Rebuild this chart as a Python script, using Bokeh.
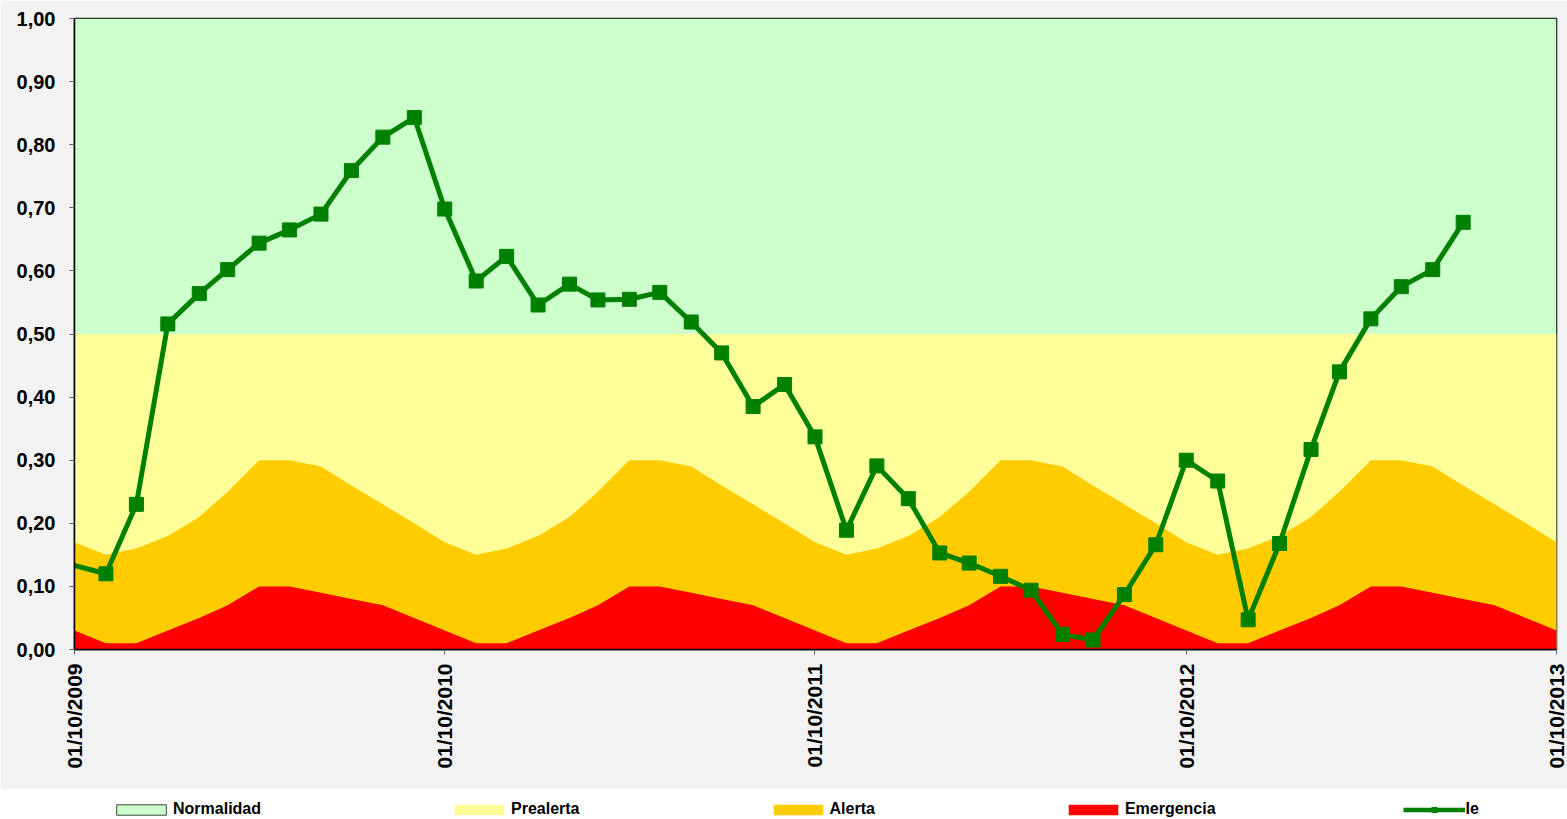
import math
import pandas as pd
from bokeh.plotting import figure
from bokeh.models import (FixedTicker, DatetimeTickFormatter, Range1d, Legend,
                          LegendItem)
from bokeh.layouts import column
from bokeh.embed import file_html
from bokeh.resources import INLINE

# ---------------- data ----------------
# monthly threshold curves, 01/10/2009 .. 01/10/2013
threshold_months = pd.date_range("2009-10-01", "2013-10-01", freq="MS")
normalidad_top = 1.00
prealerta_top = 0.50
alerta_top = [0.17, 0.15, 0.16, 0.18, 0.21, 0.25, 0.30, 0.30, 0.29, 0.26, 0.23, 0.20,
              0.17, 0.15, 0.16, 0.18, 0.21, 0.25, 0.30, 0.30, 0.29, 0.26, 0.23, 0.20,
              0.17, 0.15, 0.16, 0.18, 0.21, 0.25, 0.30, 0.30, 0.29, 0.26, 0.23, 0.20,
              0.17, 0.15, 0.16, 0.18, 0.21, 0.25, 0.30, 0.30, 0.29, 0.26, 0.23, 0.20,
              0.17]
emergencia_top = [0.03, 0.01, 0.01, 0.03, 0.05, 0.07, 0.10, 0.10, 0.09, 0.08, 0.07, 0.05,
                  0.03, 0.01, 0.01, 0.03, 0.05, 0.07, 0.10, 0.10, 0.09, 0.08, 0.07, 0.05,
                  0.03, 0.01, 0.01, 0.03, 0.05, 0.07, 0.10, 0.10, 0.09, 0.08, 0.07, 0.05,
                  0.03, 0.01, 0.01, 0.03, 0.05, 0.07, 0.10, 0.10, 0.09, 0.08, 0.07, 0.05,
                  0.03]

# index Ie (first value lies just before the axis start and is clipped)
ie_dates = [pd.Timestamp("2009-09-01")] + list(pd.date_range("2009-11-01", "2013-07-01", freq="MS"))
ie_values = [0.146,
             0.120, 0.230, 0.516, 0.564, 0.602, 0.644, 0.665, 0.690, 0.759, 0.812, 0.843,
             0.698, 0.584, 0.623, 0.546, 0.579, 0.554, 0.555, 0.566, 0.519, 0.470, 0.385, 0.420,
             0.337, 0.189, 0.291, 0.239, 0.153, 0.137, 0.116, 0.094, 0.024, 0.015, 0.087, 0.166,
             0.300, 0.267, 0.047, 0.168, 0.317, 0.440, 0.524, 0.575, 0.602, 0.677]

y_ticks = [0.0, 0.1, 0.2, 0.3, 0.4, 0.5, 0.6, 0.7, 0.8, 0.9, 1.0]
y_tick_labels = ["0,00", "0,10", "0,20", "0,30", "0,40", "0,50",
                 "0,60", "0,70", "0,80", "0,90", "1,00"]
x_tick_dates = ["2009-10-01", "2010-10-01", "2011-10-01", "2012-10-01", "2013-10-01"]

legend_labels = ["Normalidad", "Prealerta", "Alerta", "Emergencia", "Ie"]

C_NORM = "#CCFFCC"
C_PRE = "#FFFF99"
C_ALE = "#FFCC00"
C_EME = "#FF0000"
C_IE = "#008000"
FONT = "Liberation Sans"

W = 1567
BL, BR = 74, 11


def to_ms(d):
    return (pd.Timestamp(d) - pd.Timestamp("1970-01-01")) // pd.Timedelta("1ms")


# ---------------- main chart ----------------
p = figure(width=W, height=789, x_axis_type="datetime",
           output_backend="svg", toolbar_location=None,
           x_range=Range1d(to_ms("2009-10-01"), to_ms("2013-10-01")),
           y_range=Range1d(0, 1),
           min_border_left=BL, min_border_right=BR,
           min_border_top=18, min_border_bottom=140)
p.border_fill_color = "#F2F2F2"
p.background_fill_color = C_NORM
p.outline_line_color = "black"
p.outline_line_width = 1.5
p.grid.visible = False

p.varea(x=threshold_months, y1=0, y2=normalidad_top, fill_color=C_NORM)
p.varea(x=threshold_months, y1=0, y2=prealerta_top, fill_color=C_PRE)
p.varea(x=threshold_months, y1=0, y2=alerta_top, fill_color=C_ALE)
p.varea(x=threshold_months, y1=0, y2=emergencia_top, fill_color=C_EME)

p.line(x=ie_dates, y=ie_values, line_width=5, line_color=C_IE, line_join="round")
p.scatter(x=ie_dates, y=ie_values, marker="square", size=14,
          fill_color=C_IE, line_color=C_IE)

# y axis
p.yaxis.ticker = FixedTicker(ticks=y_ticks)
p.yaxis.major_label_overrides = dict(zip(y_ticks, y_tick_labels))
p.yaxis.major_label_standoff = 14

# x axis
p.xaxis.ticker = FixedTicker(ticks=[to_ms(d) for d in x_tick_dates])
fmt = "%d/%m/%Y"
p.xaxis.formatter = DatetimeTickFormatter(
    microseconds=fmt, milliseconds=fmt, seconds=fmt, minsec=fmt, minutes=fmt,
    hourmin=fmt, hours=fmt, days=fmt, months=fmt, years=fmt)
p.xaxis.major_label_orientation = math.pi / 2   # reads bottom-to-top
p.xaxis.major_label_standoff = 9

for ax in (p.xaxis, p.yaxis):
    ax.major_label_text_font = FONT
    ax.major_label_text_font_style = "bold"
    ax.major_label_text_color = "black"
    ax.axis_line_color = "black"
    ax.axis_line_width = 1.5
    ax.major_tick_line_color = "#606060"
    ax.major_tick_out = 5
    ax.major_tick_in = 0
    ax.minor_tick_line_color = None
p.yaxis.major_label_text_font_size = "20px"
p.xaxis.major_label_text_font_size = "21px"

# ---------------- separator strip ----------------
sep = figure(width=W, height=1, output_backend="svg", toolbar_location=None,
             x_range=Range1d(0, 1), y_range=Range1d(0, 1),
             x_axis_type=None, y_axis_type=None,
             min_border_left=BL, min_border_right=BR, min_border_top=0, min_border_bottom=0)
sep.outline_line_color = None
sep.background_fill_color = "#A6A6A6"
sep.border_fill_color = "#A6A6A6"
sep.grid.visible = False

# ---------------- legend strip ----------------
leg = figure(width=W, height=29, output_backend="svg", toolbar_location=None,
             x_range=Range1d(0, 10), y_range=Range1d(0, 10),
             x_axis_type=None, y_axis_type=None,
             min_border_left=BL, min_border_right=BR, min_border_top=0, min_border_bottom=0)
leg.outline_line_color = None
leg.background_fill_color = "white"
leg.border_fill_color = "white"
leg.grid.visible = False

# legend swatch renderers (their data sit outside the visible range)
r_n = leg.quad(left=[-20], right=[-19], top=[-19], bottom=[-20],
               fill_color=C_NORM, line_color="#404040", line_width=1)
r_p = leg.quad(left=[-20], right=[-19], top=[-19], bottom=[-20], fill_color=C_PRE, line_color=None)
r_a = leg.quad(left=[-20], right=[-19], top=[-19], bottom=[-20], fill_color=C_ALE, line_color=None)
r_e = leg.quad(left=[-20], right=[-19], top=[-19], bottom=[-20], fill_color=C_EME, line_color=None)
r_l = leg.line(x=[-20, -19], y=[-20, -20], line_width=4.5, line_color=C_IE)
r_s = leg.scatter(x=[-20], y=[-20], marker="square", size=9, fill_color=C_IE, line_color=C_IE)

legend = Legend(items=[LegendItem(label=legend_labels[0], renderers=[r_n]),
                       LegendItem(label=legend_labels[1], renderers=[r_p]),
                       LegendItem(label=legend_labels[2], renderers=[r_a]),
                       LegendItem(label=legend_labels[3], renderers=[r_e]),
                       LegendItem(label=legend_labels[4], renderers=[r_l, r_s])],
                orientation="horizontal", location=(36, 1),
                padding=0, margin=0, spacing=187,
                glyph_width=62, glyph_height=13, label_standoff=1, label_height=16,
                label_text_font=FONT, label_text_font_style="bold",
                label_text_font_size="16px", label_text_color="black",
                border_line_color=None, background_fill_alpha=0)
leg.add_layout(legend)

layout = column(p, sep, leg, spacing=0)

open("out.html", "w").write(file_html(layout, INLINE))
